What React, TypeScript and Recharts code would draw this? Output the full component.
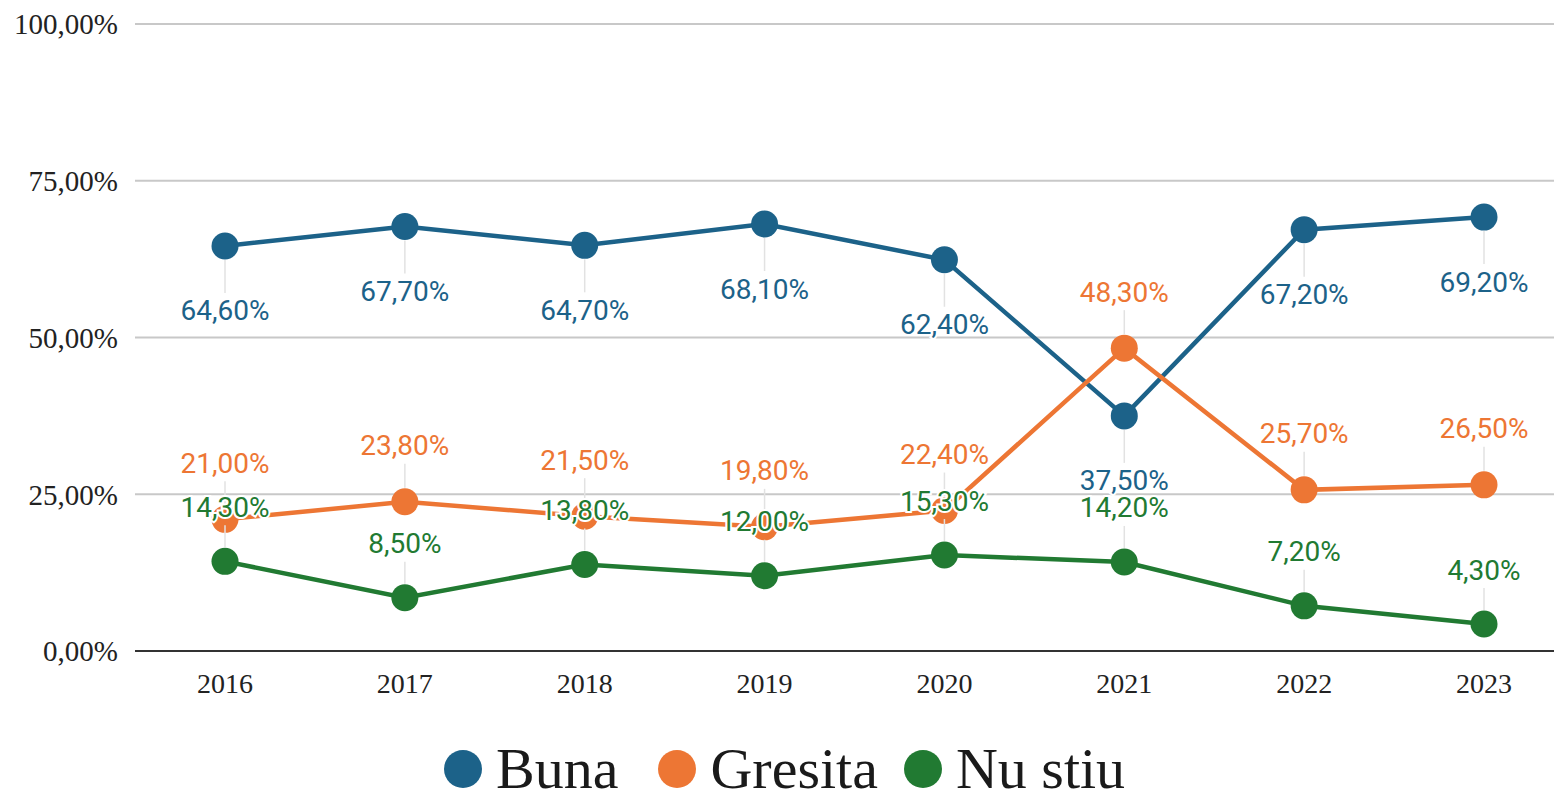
import { CartesianGrid, LabelList, Legend, Line, LineChart, XAxis, YAxis } from "recharts";

const years = ["2016", "2017", "2018", "2019", "2020", "2021", "2022", "2023"];
const buna = [64.6, 67.7, 64.7, 68.1, 62.4, 37.5, 67.2, 69.2];
const gresita = [21.0, 23.8, 21.5, 19.8, 22.4, 48.3, 25.7, 26.5];
const nuStiu = [14.3, 8.5, 13.8, 12.0, 15.3, 14.2, 7.2, 4.3];
const yTicks = [0, 25, 50, 75, 100];

const data = years.map((year, i) => ({
  year,
  buna: buna[i],
  gresita: gresita[i],
  nuStiu: nuStiu[i],
}));

const BLUE = "#1c6289";
const ORANGE = "#ed7634";
const GREEN = "#217a32";

const series = [
  { key: "buna", name: "Buna", color: BLUE, offset: 65 },
  { key: "gresita", name: "Gresita", color: ORANGE, offset: -56 },
  { key: "nuStiu", name: "Nu stiu", color: GREEN, offset: -54 },
];

const fmt = (v: number) => v.toFixed(2).replace(".", ",") + "%";

function makeLabel(color: string, offset: number) {
  return (props: any) => {
    const { x, y, value } = props;
    const dir = offset > 0 ? 1 : -1;
    return (
      <g>
        <line
          x1={x}
          y1={y + dir * 14}
          x2={x}
          y2={y + offset - dir * 18}
          stroke="#e2e2e2"
          strokeWidth={1.5}
        />
        <text
          x={x}
          y={y + offset}
          textAnchor="middle"
          dominantBaseline="central"
          fontFamily="Roboto"
          fontSize={28}
          fill={color}
          stroke="#fff"
          strokeWidth={4}
          paintOrder="stroke"
        >
          {fmt(value)}
        </text>
      </g>
    );
  };
}

function LegendContent() {
  return (
    <div style={{ display: "flex", alignItems: "center", paddingLeft: 444, marginTop: 38 }}>
      {series.map((s, i) => (
        <div key={s.key} style={{ display: "flex", alignItems: "center", marginRight: i === 0 ? 40 : 26 }}>
          <span
            style={{
              width: 38,
              height: 38,
              borderRadius: "50%",
              background: s.color,
              display: "inline-block",
              marginRight: 14,
            }}
          />
          <span style={{ fontFamily: "Liberation Serif", fontSize: 58, color: "#1a1a1a", lineHeight: "50px" }}>
            {s.name}
          </span>
        </div>
      ))}
    </div>
  );
}

export default function App() {
  return (
    <div style={{ position: "absolute", left: 0, top: 0, background: "#fff" }}>
      <LineChart width={1554} height={796} data={data} margin={{ top: 24, right: 0, bottom: 0, left: 0 }}>
        <CartesianGrid vertical={false} stroke="#c8c8c8" strokeWidth={2} />
        <XAxis
          dataKey="year"
          padding={{ left: 90, right: 70 }}
          axisLine={{ stroke: "#333", strokeWidth: 2 }}
          tickLine={false}
          tickSize={0}
          tickMargin={22}
          height={55}
          tick={{ fontFamily: "Liberation Serif", fontSize: 28, fill: "#222" }}
        />
        <YAxis
          domain={[0, 100]}
          ticks={yTicks}
          tickFormatter={fmt}
          axisLine={false}
          tickLine={false}
          tickSize={0}
          tickMargin={17}
          width={135}
          tick={{ fontFamily: "Liberation Serif", fontSize: 29, fill: "#222" }}
        />
        <Legend verticalAlign="bottom" height={90} content={<LegendContent />} wrapperStyle={{ left: 0, width: 1554 }} />
        {series.map((s) => (
          <Line
            key={s.key}
            dataKey={s.key}
            name={s.name}
            stroke={s.color}
            strokeWidth={4.5}
            dot={{ r: 13.5, fill: s.color, stroke: "none" }}
            activeDot={false}
            isAnimationActive={false}
          >
            <LabelList dataKey={s.key} content={makeLabel(s.color, s.offset)} />
          </Line>
        ))}
      </LineChart>
    </div>
  );
}
